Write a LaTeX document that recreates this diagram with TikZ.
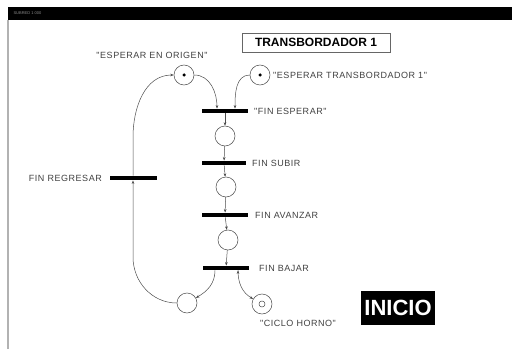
\documentclass[tikz,border=0pt]{standalone}
\usepackage{fontspec}
\setmainfont{Liberation Sans}
\newfontfamily\lblfont[LetterSpace=6]{Liberation Sans}
\usepackage{tikz}
\usetikzlibrary{petri, arrows.meta, positioning}

\begin{document}
\begin{tikzpicture}[
    x=1pt, y=1pt,
    >={Stealth[length=3.5pt,width=2.6pt]},
    arc/.style={draw=black!70, line width=0.5pt},
    every place/.style={draw=black!70, line width=0.5pt, minimum size=20pt, inner sep=0pt},
    every transition/.style={fill=black, draw=none, minimum width=46pt, minimum height=4.5pt, inner sep=0pt},
    every token/.style={fill=black, circle, inner sep=0pt, minimum size=3.5pt},
    lbl/.style={text=black!75, font=\lblfont\fontsize{9}{9}\selectfont, inner sep=1pt}
]
    \useasboundingbox (0,0) rectangle (512,349);
    % window frame
    \fill[black] (8,329) rectangle (512,342);
    \draw[black!30, line width=1.5pt] (8,0) -- (8,329);
    \node[text=black!45, font=\fontsize{4}{4}\selectfont, anchor=west] (wtitle) at (10,335.5) {SUBRED 1 000};

    \node[draw=black!60, line width=0.8pt, minimum width=148pt, minimum height=19pt, inner sep=0pt,
          font=\bfseries\fontsize{12}{12}\selectfont] (title) at (316,306.5) {TRANSBORDADOR 1};

    % places and transitions of the net
    \node[place, tokens=1] (porig) at (184,274) {};
    \node[place, tokens=1] (ptrans) at (260,274) {};
    \node[transition] (tesp) at (225,238) {};
    \node[place] (p1) at (225,213) {};
    \node[transition, minimum width=44pt] (tsub) at (224,186) {};
    \node[place] (p2) at (226,162) {};
    \node[transition] (tava) at (225,134) {};
    \node[place] (p3) at (228,109) {};
    \node[transition] (tbaj) at (226,81) {};
    \node[place] (pvuelta) at (187,46) {};
    \node[place] (pciclo) at (262,45) {};
    \draw[black!70, line width=0.5pt] (pciclo) circle (3pt);
    \node[transition, minimum width=47pt] (treg) at (133,171) {};

    % labels
    \node[lbl] (lorig) at (152,294) {"ESPERAR EN ORIGEN"};
    \node[lbl, anchor=west] (ltrans) at (272,274) {"ESPERAR TRANSBORDADOR 1"};
    \node[lbl, anchor=west] (lesp) at (253,238) {"FIN ESPERAR"};
    \node[lbl, anchor=west] (lsub) at (251,186) {FIN SUBIR};
    \node[lbl, anchor=west] (lava) at (254,134) {FIN AVANZAR};
    \node[lbl, anchor=west] (lbaj) at (258,81) {FIN BAJAR};
    \node[lbl, anchor=east] (lreg) at (103,171) {FIN REGRESAR};
    \node[lbl] (lciclo) at (298,26) {"CICLO HORNO"};

    \node[fill=black, minimum width=74pt, minimum height=34pt, inner sep=0pt, text=white,
          font=\bfseries\fontsize{22}{22}\selectfont] (inicio) at (398,41) {INICIO};

    % return branch
    \coordinate (rbajo) at (133,92);
    \coordinate (ralto) at (133,212);

    \path[->, arc]
        (porig.east) edge[out=0, in=90] ([xshift=-8pt]tesp.north)
        (ptrans.west) edge[out=180, in=90] ([xshift=10pt]tesp.north)
        (tesp) edge (p1)
        (p1) edge (tsub)
        (tsub) edge (p2)
        (p2) edge (tava)
        (tava) edge (p3)
        (p3) edge (tbaj)
        ([xshift=-11pt]tbaj.south) edge[out=-90, in=30] (pvuelta)
        ([xshift=12pt]tbaj.south) edge[out=-90, in=150] (pciclo);
    \draw[arc, ->] (pvuelta.west) to[out=180, in=-90] (rbajo) -- (treg.south);
    \draw[arc, ->] (treg.north) -- (ralto) to[out=90, in=180] (porig.west);
\end{tikzpicture}
\end{document}
